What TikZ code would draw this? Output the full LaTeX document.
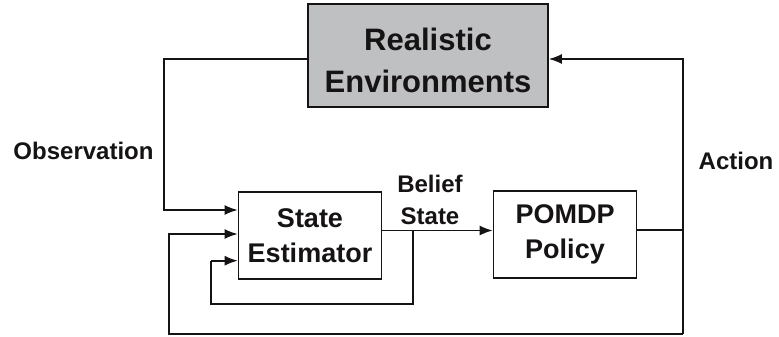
\documentclass[tikz,border=0pt]{standalone}
\usepackage{fontspec}
\setmainfont{Liberation Sans}
\usetikzlibrary{arrows.meta}
\definecolor{ink}{HTML}{161314}
\definecolor{envgray}{HTML}{BFC0C2}
\begin{document}
\begin{tikzpicture}[x=1pt,y=-1pt,
  line width=1.6pt, draw=ink, text=ink, font=\bfseries,
  box/.style={draw=ink, line width=1.6pt, inner sep=0pt, align=center, fill=white, text=ink},
  arr/.style={-{Latex[length=13pt,width=10pt]}, draw=ink, line width=1.6pt},
  ln/.style={draw=ink, line width=1.6pt},
  lbl/.style={inner sep=0pt, anchor=base, align=center, text=ink, font=\bfseries\fontsize{24}{32}\selectfont}]
\useasboundingbox (0,0) rectangle (779,337);
% boxes
\node[box, fill=envgray, minimum width=240pt, minimum height=103pt,
      font=\bfseries\fontsize{31}{42}\selectfont] (env) at (428,55.5)
      {\rule{0pt}{32.6pt}Realistic\\Environments};
\node[box, minimum width=143pt, minimum height=87pt,
      font=\bfseries\fontsize{27}{35}\selectfont] (est) at (310,235.3)
      {State\\Estimator};
\node[box, minimum width=143pt, minimum height=87pt,
      font=\bfseries\fontsize{27}{35}\selectfont] (pol) at (565,234.7)
      {POMDP\\Policy\rule[-5.7pt]{0pt}{0pt}};
% labels
\node[lbl] (obs) at (83.5,159) {Observation};
\node[lbl] (act) at (736,169) {Action};
\node[lbl] (bel) at (430,224) {Belief\\State};
% coordinates
\coordinate (o1) at (164,59);
\coordinate (o2) at (164,210);
\coordinate (atop) at (683,59);
\coordinate (amid) at (683,230);
\coordinate (abot) at (683,334);
\coordinate (b1) at (169,334);
\coordinate (b2) at (169,234);
\coordinate (f0) at (413,230.5);
\coordinate (f1) at (413,304);
\coordinate (f2) at (210.7,304);
\coordinate (f3) at (210.7,260.7);
% connectors
\draw[arr] (env.west |- o1) -- (o1) -- (o2) -- (est.west |- o2);
\draw[arr] (est.east |- f0) -- (pol.west |- f0);
\draw[ln] (f0) -- (f1) -- (f2) -- (f3);
\draw[arr] (f3) -- (est.west |- f3);
\draw[ln] (pol.east |- amid) -- (amid);
\draw[arr] (abot) -- (atop) -- (env.east |- atop);
\draw[arr] (abot) -- (b1) -- (b2) -- (est.west |- b2);
\end{tikzpicture}
\end{document}
